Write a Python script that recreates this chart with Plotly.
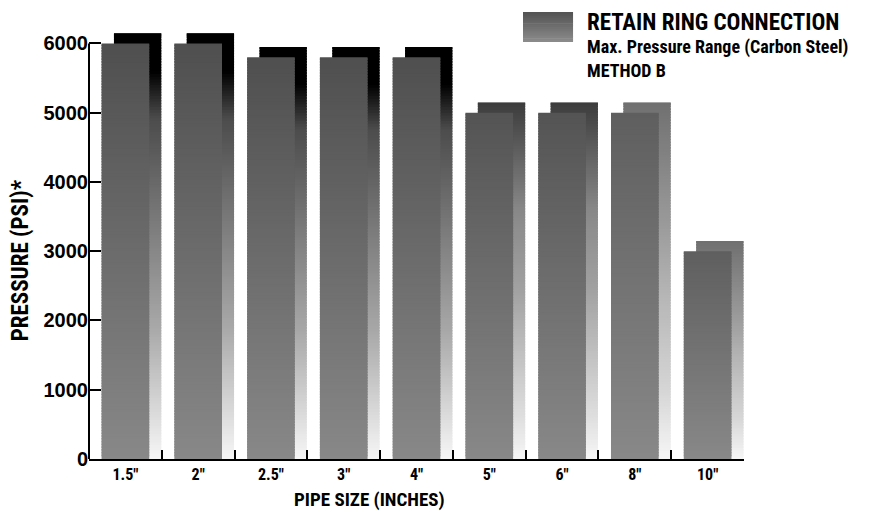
import plotly.graph_objects as go

# ---------------- data ----------------
sizes = ['1.5"', '2"', '2.5"', '3"', '4"', '5"', '6"', '8"', '10"']
pressure = [6000, 6000, 5800, 5800, 5800, 5000, 5000, 5000, 3000]
y_ticks = [0, 1000, 2000, 3000, 4000, 5000, 6000]
title_lines = ["RETAIN RING CONNECTION", "Max. Pressure Range (Carbon Steel)", "METHOD B"]
x_title = "PIPE SIZE (INCHES)"
y_title = "PRESSURE (PSI)*"

# ---------------- style ----------------
NARROW = "Roboto Condensed, Roboto, Liberation Sans, sans-serif"
WIDE = "Liberation Sans, Arial, sans-serif"
DEPTH = 145          # how much higher the shadow (back) bar rises, in axis units
STEP = 40            # gradient slice height, in axis units
Y_TOP = 6150         # axis range top (room for the shadow above 6000)
FRONT_W, FRONT_OFF = 0.655, -0.3275
BACK_W, BACK_OFF = 0.65, -0.157

BACK_SCHEMES = {
    "dark": [(0, 0x00), (0.09, 0x00), (0.2, 0x4c), (0.44, 0x7a), (0.69, 0xa8), (0.85, 0xd0), (1, 0xf6)],
    "mid": [(0, 0x3c), (0.3, 0x88), (0.53, 0xa2), (0.9, 0xe2), (1, 0xf6)],
    "light": [(0, 0x70), (0.34, 0x9a), (0.53, 0xb4), (0.81, 0xd6), (1, 0xf6)],
}
back_scheme = ["dark"] * 5 + ["mid"] * 2 + ["light"] * 2
front_top = [0x4f] * 5 + [0x54] * 2 + [0x5f] * 2
FRONT_BOTTOM = 0x88


def interp(stops, t):
    for (t0, g0), (t1, g1) in zip(stops, stops[1:]):
        if t <= t1:
            f = 0 if t1 == t0 else (t - t0) / (t1 - t0)
            return g0 + (g1 - g0) * f
    return stops[-1][1]


def gray(g):
    g = int(round(max(0, min(255, g))))
    return f"rgb({g},{g},{g})"


def slices(top, stops):
    bases, hs, cols = [], [], []
    lo = 0.0
    while lo < top:
        hi = min(top, lo + STEP * 1.6)
        mid = lo + STEP / 2
        t = 1 - mid / top  # 0 at top, 1 at bottom
        bases.append(lo)
        hs.append(hi - lo)
        cols.append(gray(interp(stops, t)))
        lo += STEP
    return bases, hs, cols


bx, bb, bh, bc = [], [], [], []
fx, fb, fh, fc = [], [], [], []
for i, (cat, v) in enumerate(zip(sizes, pressure)):
    b, h, c = slices(v + DEPTH, BACK_SCHEMES[back_scheme[i]])
    bx += [cat] * len(b); bb += b; bh += h; bc += c
    b, h, c = slices(v, [(0, front_top[i]), (1, FRONT_BOTTOM)])
    fx += [cat] * len(b); fb += b; fh += h; fc += c

fig = go.Figure()
fig.add_trace(go.Bar(x=bx, y=bh, base=bb, width=BACK_W, offset=BACK_OFF,
                     marker=dict(color=bc, line=dict(width=0)),
                     showlegend=False, hoverinfo="skip"))
fig.add_trace(go.Bar(x=fx, y=fh, base=fb, width=FRONT_W, offset=FRONT_OFF,
                     marker=dict(color=fc, line=dict(width=0)),
                     showlegend=False, hoverinfo="skip"))

shapes = []
# y axis line stopping at the top tick
shapes.append(dict(type="line", xref="paper", yref="y", x0=0, x1=0,
                   y0=0, y1=y_ticks[-1], line=dict(color="black", width=2)))
# legend swatch (gradient made of thin rectangles)
sx0, sx1, sy_top, sy_bot = 0.6626, 0.739, 1.0493, 0.9789
n = 16
for k in range(n):
    y_hi = sy_top - (sy_top - sy_bot) * k / n
    y_lo = max(sy_top - (sy_top - sy_bot) * (k + 1.3) / n, sy_bot)
    shapes.append(dict(type="rect", xref="paper", yref="paper", x0=sx0, x1=sx1,
                       y0=y_lo, y1=y_hi, line=dict(width=0),
                       fillcolor=gray(0x52 + (0x8c - 0x52) * (k + 0.5) / n)))

annotations = [
    dict(text=title_lines[0], xref="paper", yref="paper", x=0.757, y=1.0258,
         xanchor="left", yanchor="middle", showarrow=False,
         font=dict(family=NARROW, size=23, color="black", weight="bold")),
    dict(text=title_lines[1], xref="paper", yref="paper", x=0.757, y=0.9671,
         xanchor="left", yanchor="middle", showarrow=False,
         font=dict(family=NARROW, size=18, color="black", weight="bold")),
    dict(text=title_lines[2], xref="paper", yref="paper", x=0.757, y=0.9108,
         xanchor="left", yanchor="middle", showarrow=False,
         font=dict(family=NARROW, size=18, color="black", weight="bold")),
    dict(text=x_title, xref="paper", yref="paper", x=0.4275, y=-0.0962,
         xanchor="center", yanchor="middle", showarrow=False,
         font=dict(family=NARROW, size=19, color="black", weight="bold")),
    dict(text=y_title, xref="paper", yref="paper", x=-0.105, y=0.467,
         xanchor="center", yanchor="middle", showarrow=False, textangle=-90,
         font=dict(family=NARROW, size=23, color="black", weight="bold")),
]

# the page adds an 8px body margin, so margins are shifted to keep the plot area in place
fig.update_layout(
    width=883, height=512, autosize=False,
    margin=dict(l=81, r=147, t=25, b=61),
    paper_bgcolor="white", plot_bgcolor="white",
    barmode="overlay", showlegend=False,
    shapes=shapes, annotations=annotations,
    xaxis=dict(type="category", categoryorder="array", categoryarray=sizes,
               range=[-0.5, len(sizes) - 0.5], tickson="boundaries",
               ticks="inside", ticklen=9, tickwidth=2, tickcolor="black",
               showline=True, linewidth=2, linecolor="black", showgrid=False,
               tickfont=dict(family=NARROW, size=16, color="black", weight="bold")),
    yaxis=dict(range=[0, Y_TOP], tickmode="array", tickvals=y_ticks,
               ticktext=[str(t) for t in y_ticks],
               ticks="inside", ticklen=12, tickwidth=2, tickcolor="black",
               showline=False, showgrid=False, zeroline=False,
               tickfont=dict(family=WIDE, size=20, color="black", weight="bold")),
)

fig.write_html("out.html")
